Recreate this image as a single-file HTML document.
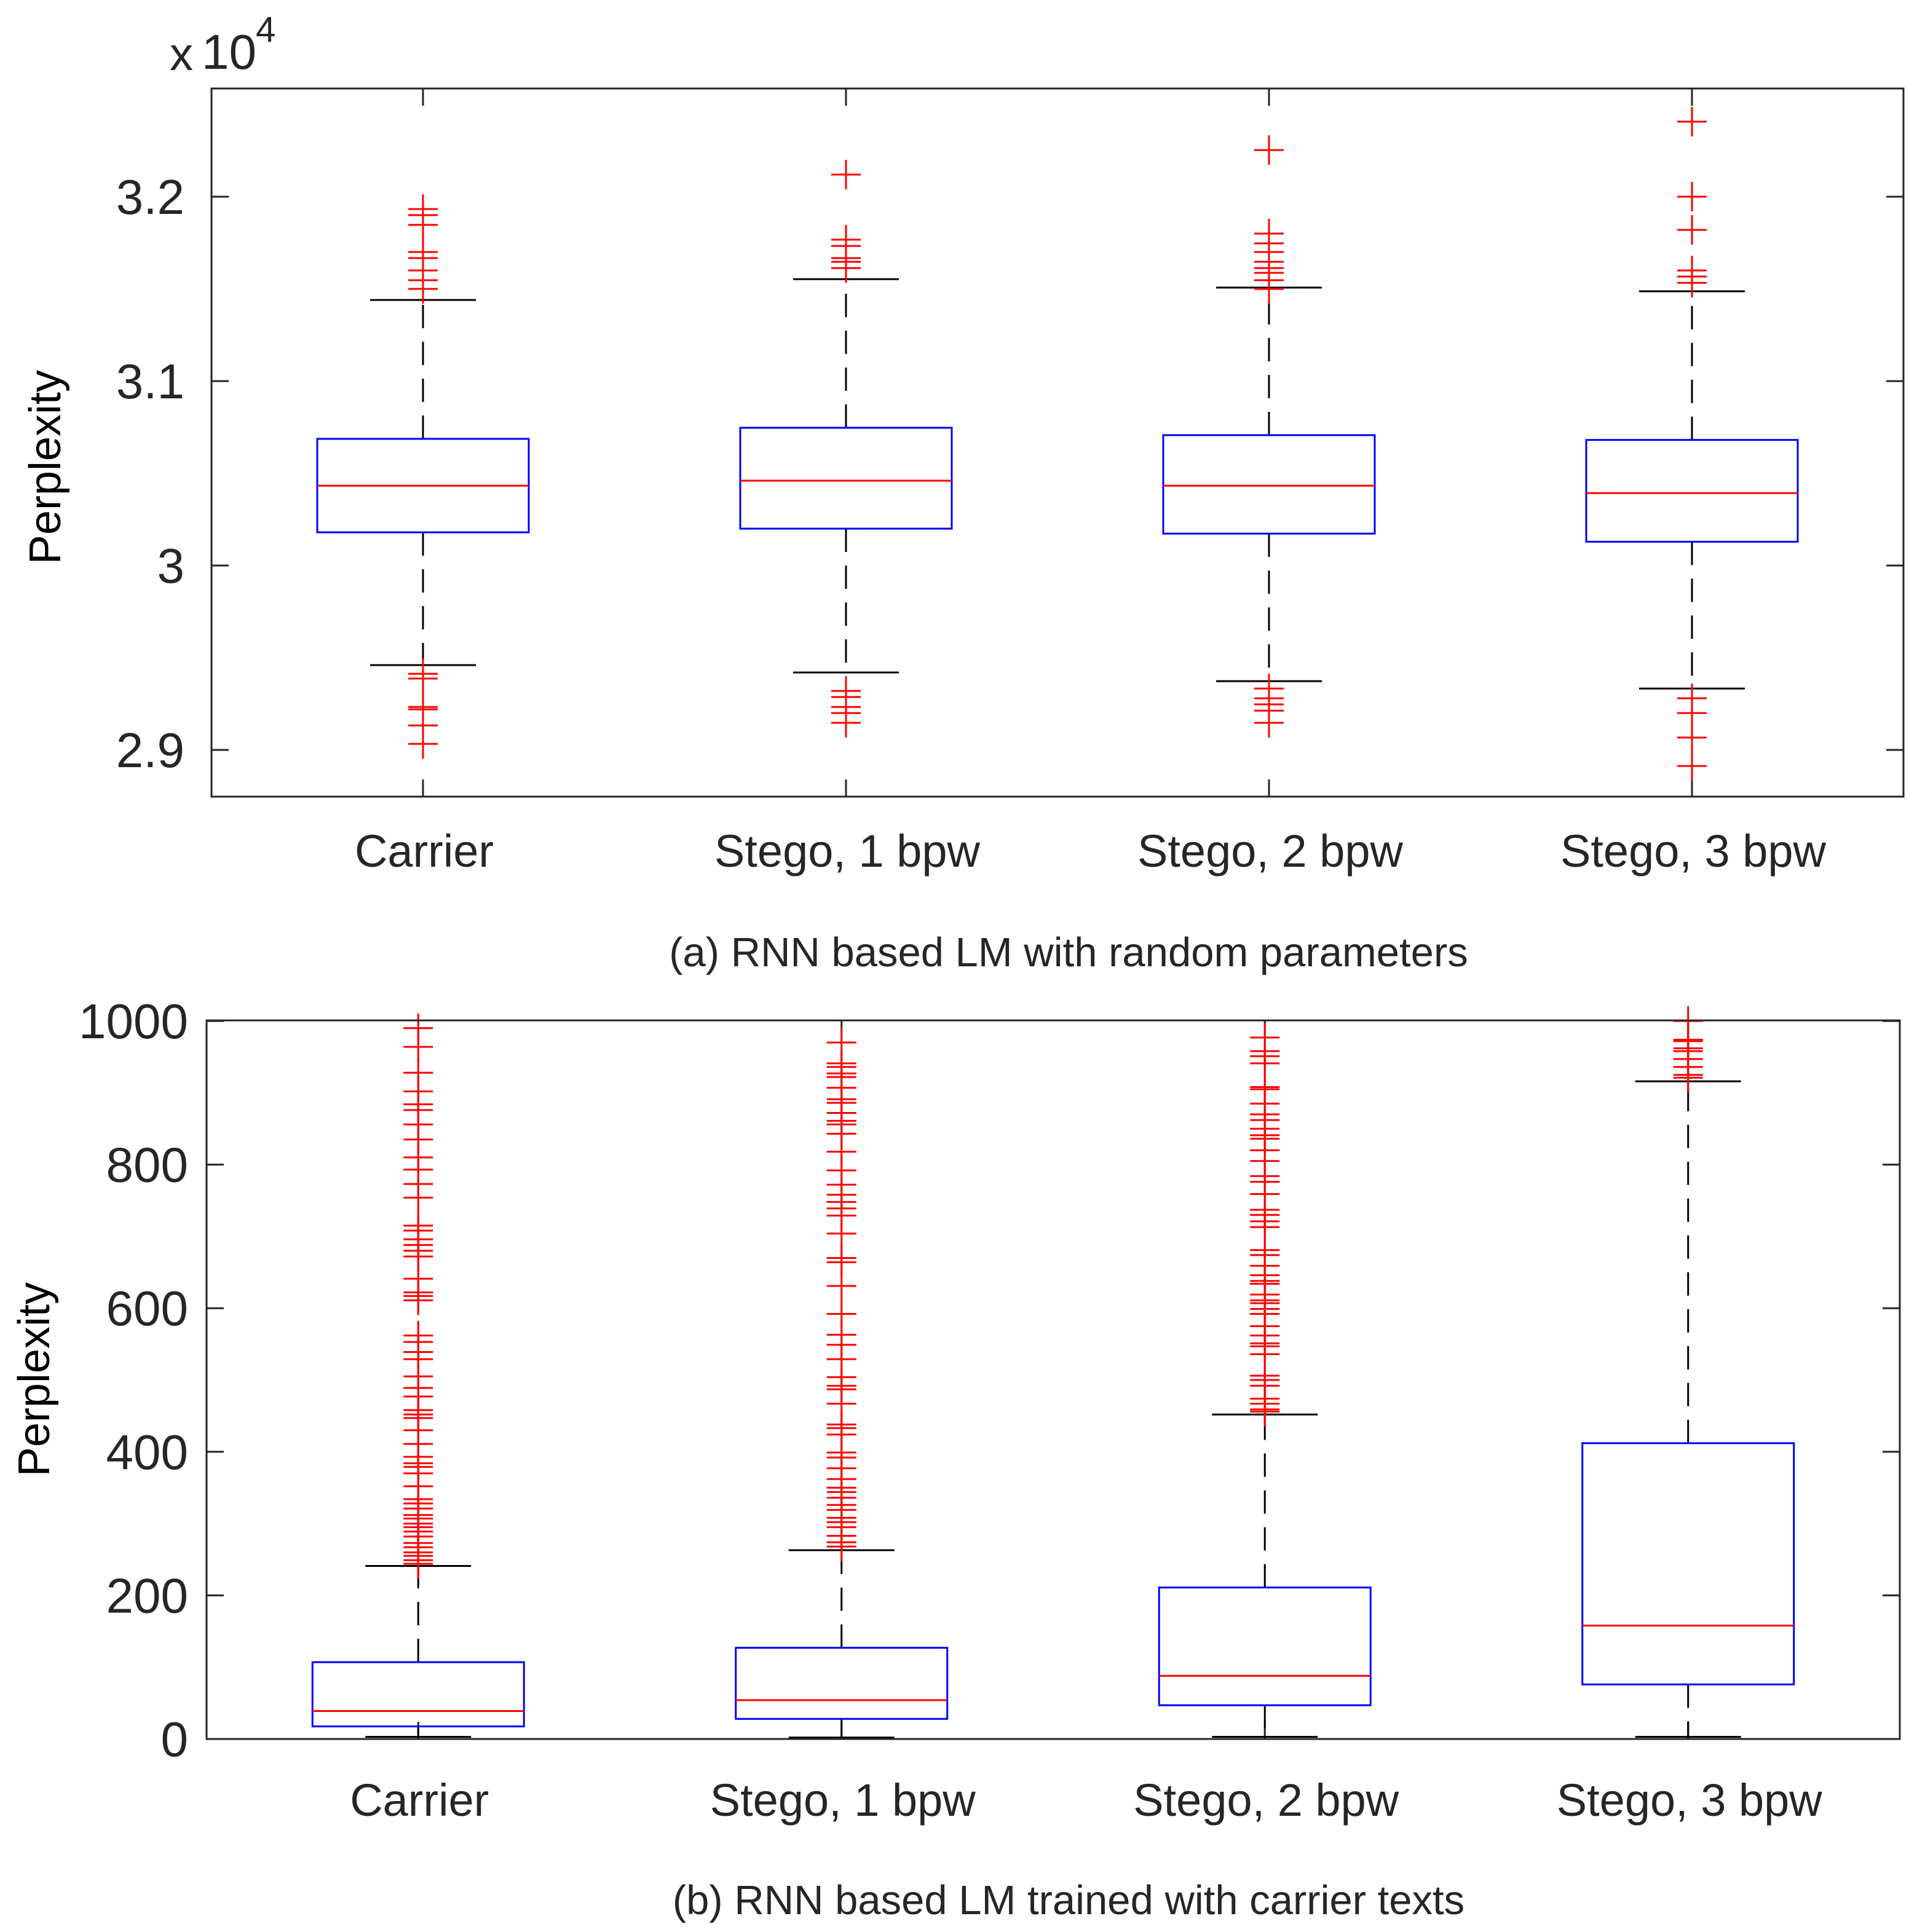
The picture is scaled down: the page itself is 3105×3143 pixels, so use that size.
<!DOCTYPE html>
<html><head><meta charset="utf-8"><style>
html,body{margin:0;padding:0;background:#fff;}
svg{display:block;font-family:"Liberation Sans",Arial,sans-serif;}
</style></head><body>
<svg id="fig" width="3105" height="3143" viewBox="0 0 3105 3143" xmlns="http://www.w3.org/2000/svg">
<g id="pa"></g>
<g id="pb"></g>
</svg>
<script>
const categories = ["Carrier","Stego, 1 bpw","Stego, 2 bpw","Stego, 3 bpw"];
// Panel (a) values in units of 10^4
const aLowerWhisker = [2.946, 2.942, 2.9373, 2.9333];
const aQ1 = [3.018, 3.020, 3.0173, 3.0129];
const aMedian = [3.0433, 3.046, 3.0433, 3.0393];
const aQ3 = [3.0687, 3.0747, 3.0707, 3.0681];
const aUpperWhisker = [3.144, 3.1553, 3.1507, 3.1487];
const aOutliers = [
 [3.1933,3.19,3.1847,3.17,3.1667,3.16,3.1547,3.15,2.9413,2.9387,2.9233,2.922,2.9133,2.9033],
 [3.212,3.1767,3.1733,3.1667,3.1647,3.1613,2.932,2.9287,2.9233,2.92,2.9147],
 [3.2253,3.18,3.1747,3.17,3.1647,3.1613,3.1587,3.1547,3.15,2.9333,2.928,2.9247,2.9213,2.9147],
 [3.2407,3.2,3.182,3.16,3.1567,3.1533,2.928,2.92,2.9067,2.8913]
];
const aTicks = [2.9, 3.0, 3.1, 3.2];
const aTickLabels = ["2.9","3","3.1","3.2"];
// Panel (b)
const bLowerWhisker = [3, 2, 3, 3];
const bQ1 = [17.5, 28, 47, 76];
const bMedian = [39, 54, 88, 158];
const bQ3 = [107, 127, 211, 412];
const bUpperWhisker = [241, 263, 452, 916];
const bOutliers = [
 [990,964,928,902,884,876,856,835,810,793,773,754,715,708,696,688,680,672,641,622,617,611,562,553,539,529,505,489,477,458,452,447,430,411,393,384,379,370,352,334,328,321,312,307,300,295,289,282,273,267,260,255,249,244],
 [970,941,936,927,922,907,891,886,872,861,856,843,818,792,772,758,748,739,729,704,670,664,631,592,563,549,529,504,492,487,467,438,433,424,399,392,377,362,350,344,336,326,319,308,302,295,283,274,268],
 [977,958,951,941,908,905,885,870,862,850,841,836,820,805,784,776,759,737,730,721,713,681,674,659,646,638,634,619,611,607,599,592,575,562,551,547,536,506,500,492,474,467,459,456],
 [1000,974,972,962,958,947,936,925,921]
];
const bTicks = [0,200,400,600,800,1000];
const bTickLabels = ["0","200","400","600","800","1000"];

const NS="http://www.w3.org/2000/svg";
function mk(parent,tag,attrs,text){const e=document.createElementNS(NS,tag);for(const k in attrs)e.setAttribute(k,attrs[k]);if(text!==undefined)e.textContent=text;parent.appendChild(e);return e;}

function panel(g, ax, yScale, lw, q1, med, q3, uw, outs, ticks, tickLabels, xLabelY, caption, capY, ylabX, ylabY, tickLabelGap){
  const band=(ax.r-ax.l)/categories.length;
  const xc=i=>ax.l+band*(i+0.5);
  const bw=344, cw=172, m=24;
  ticks.forEach((t,i)=>{
    const y=yScale(t);
    const tl=mk(g,'line',{x1:ax.l,y1:y,x2:ax.l+28,y2:y,stroke:'#262626','stroke-width':3});
    
    
    const tr=mk(g,'line',{x1:ax.r,y1:y,x2:ax.r-28,y2:y,stroke:'#262626','stroke-width':3});
    
    
    const lb=mk(g,'text',{x:ax.l-tickLabelGap,y:y+28,'text-anchor':'end','font-size':80,fill:'#262626'},tickLabels[i]);
    
    
  });
  categories.forEach((c,i)=>{
    const x=xc(i);
    const t1=mk(g,'line',{x1:x,y1:ax.b,x2:x,y2:ax.b-28,stroke:'#262626','stroke-width':3});
    
    
    const t2=mk(g,'line',{x1:x,y1:ax.t,x2:x,y2:ax.t+28,stroke:'#262626','stroke-width':3});
    
    
    const lb=mk(g,'text',{x:x+2,y:xLabelY,'text-anchor':'middle','font-size':74,fill:'#262626'},c);
    
    
    const w1=mk(g,'line',{x1:x,y1:yScale(q3[i]),x2:x,y2:yScale(uw[i]),stroke:'#000','stroke-width':3,'stroke-dasharray':'38 22'});
    
    
    const w2=mk(g,'line',{x1:x,y1:yScale(q1[i]),x2:x,y2:yScale(lw[i]),stroke:'#000','stroke-width':3,'stroke-dasharray':'38 22'});
    
    
    const c1=mk(g,'line',{x1:x-cw/2,y1:yScale(uw[i]),x2:x+cw/2,y2:yScale(uw[i]),stroke:'#000','stroke-width':3});
    
    
    const c2=mk(g,'line',{x1:x-cw/2,y1:yScale(lw[i]),x2:x+cw/2,y2:yScale(lw[i]),stroke:'#000','stroke-width':3});
    
    
    const bx=mk(g,'rect',{x:x-bw/2,y:yScale(q3[i]),width:bw,height:yScale(q1[i])-yScale(q3[i]),fill:'none',stroke:'#0000ff','stroke-width':3});
    
    
    const md=mk(g,'line',{x1:x-bw/2,y1:yScale(med[i]),x2:x+bw/2,y2:yScale(med[i]),stroke:'#ff0000','stroke-width':3});
    
    
    outs[i].forEach(v=>{
      const y=yScale(v);
      const p=mk(g,'path',{d:`M${x-m},${y}H${x+m}M${x},${y-m}V${y+m}`,stroke:'#ff0000','stroke-width':3,fill:'none'});
      
      
    });
  });
  const fr=mk(g,'rect',{x:ax.l,y:ax.t,width:ax.r-ax.l,height:ax.b-ax.t,fill:'none',stroke:'#262626','stroke-width':3});
  
  
  const cp=mk(g,'text',{x:1738,y:capY,'text-anchor':'middle','font-size':67,fill:'#262626'},caption);
  
  
  const yl=mk(g,'text',{x:0,y:0,'text-anchor':'middle','font-size':72,fill:'#000',transform:`translate(${ylabX},${ylabY}) rotate(-90)`},'Perplexity');
  
  
}

const axA={l:344,r:3096,t:144,b:1296};
const yA=v=>320+(3.2-v)*3000;
panel(document.getElementById('pa'),axA,yA,aLowerWhisker,aQ1,aMedian,aQ3,aUpperWhisker,aOutliers,aTicks,aTickLabels,1410,'(a) RNN based LM with random parameters',1572,98,760,44);

const axB={l:336,r:3090,t:1660,b:2829};
const yB=v=>2829-v*1.168;
panel(document.getElementById('pb'),axB,yB,bLowerWhisker,bQ1,bMedian,bQ3,bUpperWhisker,bOutliers,bTicks,bTickLabels,2954,'(b) RNN based LM trained with carrier texts',3114,80,2244,30);

const gA=document.getElementById('pa');
const ex=mk(gA,'text',{x:276,y:114,'font-size':76,fill:'#262626'},'x');


const e10=mk(gA,'text',{x:328,y:112,'font-size':80,fill:'#262626'},'10');


const e4=mk(gA,'text',{x:416,y:68,'font-size':58,fill:'#262626'},'4');


</script>
</body></html>
